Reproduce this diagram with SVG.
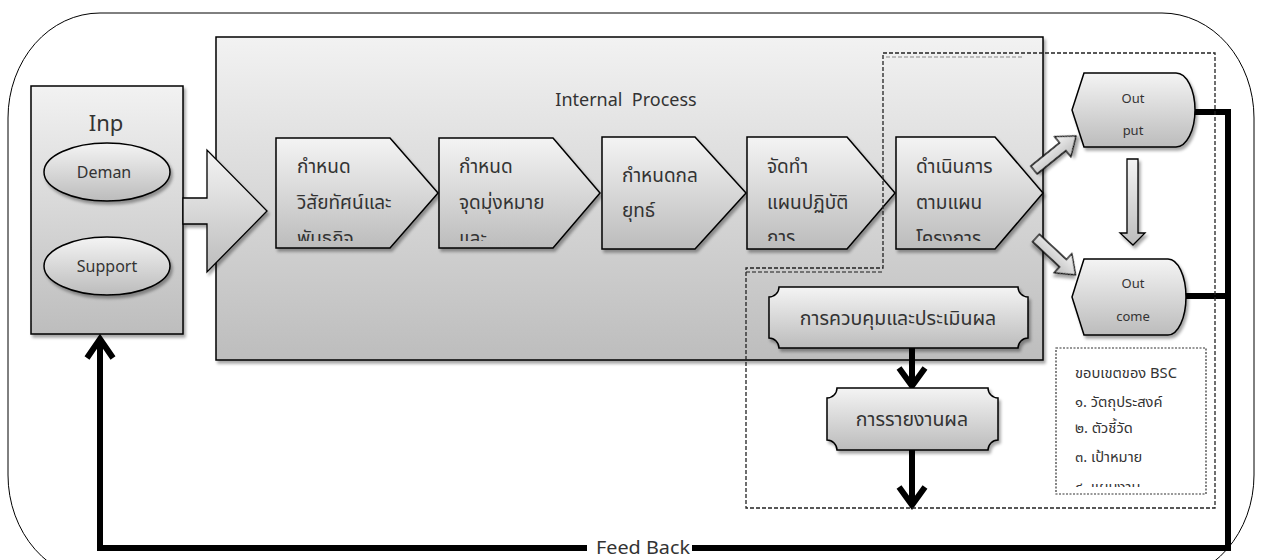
<svg xmlns="http://www.w3.org/2000/svg" width="1263" height="560" viewBox="0 0 1263 560">
<defs>
<linearGradient id="g" x1="0" y1="0" x2="0" y2="1"><stop offset="0" stop-color="#f4f4f4"/><stop offset="1" stop-color="#bcbcbc"/></linearGradient>
<linearGradient id="gb" x1="0" y1="0" x2="0" y2="1"><stop offset="0" stop-color="#f2f2f2"/><stop offset="1" stop-color="#bdbdbd"/></linearGradient>
<filter id="sh" x="-10%" y="-10%" width="130%" height="130%"><feDropShadow dx="2" dy="3" stdDeviation="1.5" flood-color="#000" flood-opacity="0.35"/></filter>
<clipPath id="stepclip"><rect x="270" y="130" width="780" height="111"/></clipPath>
<clipPath id="bscclip"><rect x="1056" y="348" width="150" height="139"/></clipPath>
</defs>
<style>
.shape{fill:url(#g);stroke:#000;stroke-width:1.5;filter:url(#sh)}
.big{fill:url(#gb);stroke:#000;stroke-width:1.5;filter:url(#sh)}
.t{font-family:"Noto Sans Thai","Noto Sans","DejaVu Sans",sans-serif;fill:#333}
.s19{font-size:19px}
.s13{font-size:13px}
.s15{font-size:14.7px}
.dash{fill:none;stroke:#222;stroke-width:1.3;stroke-dasharray:4 2}
.dot{fill:none;stroke:#333;stroke-width:1.2;stroke-dasharray:2 1.5}
.thick{fill:none;stroke:#000;stroke-width:6}
.barrow{fill:url(#g);stroke:#000;stroke-width:1.3;filter:url(#sh)}
</style>
<rect x="8" y="13" width="1246" height="567" rx="92" ry="105" fill="none" stroke="#000" stroke-width="1"/>

<g id="internal-process">
<rect class="big" x="216" y="37" width="827" height="323"/>
<text class="t" x="626" y="106" font-size="18" text-anchor="middle" xml:space="preserve">Internal  Process</text>
</g>

<g id="input">
<rect class="big" x="31" y="86" width="152" height="248"/>
<text class="t" x="106" y="131" font-size="22" text-anchor="middle">Inp</text>
</g>
<g id="deman">
<ellipse class="shape" cx="107" cy="172" rx="63" ry="29"/>
<text class="t" x="104" y="178" font-size="16" text-anchor="middle">Deman</text>
</g>
<g id="support">
<ellipse class="shape" cx="107" cy="266" rx="63" ry="29"/>
<text class="t" x="107" y="272" font-size="16" text-anchor="middle">Support</text>
</g>

<g id="connectors">
<polygon class="barrow" points="183,198 207,198 207,150 267,211 207,272 207,224 183,224"/>
<path class="barrow" transform="translate(1034,170) rotate(-39)" d="M0,-5 L37,-5 L37,-13 L54,0 L37,13 L37,5 L0,5 Z"/>
<path class="barrow" transform="translate(1036,238) rotate(43)" d="M0,-5 L37,-5 L37,-13 L54,0 L37,13 L37,5 L0,5 Z"/>
<polygon class="barrow" points="1127,159 1138,159 1138,233 1145,233 1133,245 1120,233 1127,233"/>
<polyline class="thick" points="1194,112 1228,112 1228,548 692,548"/>
<line class="thick" x1="1185" y1="296" x2="1228" y2="296"/>
<polyline class="thick" points="587,548 100,548 100,340"/>
<polyline class="thick" points="87,358 100,339 113,358"/>
<line class="thick" x1="912" y1="348" x2="912" y2="384"/>
<polyline class="thick" points="899,368 912,386 925,368"/>
<line class="thick" x1="912" y1="450" x2="912" y2="503"/>
<polyline class="thick" points="899,487 912,505 925,487"/>
<text class="t" x="596" y="554" font-size="18" textLength="94" lengthAdjust="spacingAndGlyphs">Feed Back</text>
</g>

<g id="step1">
<polygon class="shape" points="276,138 390,138 438,193 390,248 276,248"/>
<g clip-path="url(#stepclip)" class="t s19"><text x="297" y="173">กำหนด</text><text x="297" y="209">วิสัยทัศน์และ</text><text x="297" y="245">พันธกิจ</text></g>
</g>
<g id="step2">
<polygon class="shape" points="439,138 553,138 600,193 553,248 439,248"/>
<g clip-path="url(#stepclip)" class="t s19"><text x="459" y="173">กำหนด</text><text x="459" y="209">จุดมุ่งหมาย</text><text x="459" y="245">และ</text></g>
</g>
<g id="step3">
<polygon class="shape" points="602,137 695,137 746,193 695,249 602,249"/>
<g class="t s19"><text x="622" y="182">กำหนดกล</text><text x="622" y="217">ยุทธ์</text></g>
</g>
<g id="step4">
<polygon class="shape" points="747,137 847,137 895,193 847,249 747,249"/>
<g clip-path="url(#stepclip)" class="t s19"><text x="767" y="173">จัดทำ</text><text x="767" y="209">แผนปฏิบัติ</text><text x="767" y="244">การ</text></g>
</g>
<g id="step5">
<polygon class="shape" points="896,137 995,137 1043,193 995,249 896,249"/>
<g clip-path="url(#stepclip)" class="t s19"><text x="916" y="173">ดำเนินการ</text><text x="916" y="209">ตามแผน</text><text x="916" y="245">โครงการ</text></g>
</g>

<g id="control">
<path class="shape" d="M779,287 H1018 A10,10 0 0 0 1028,297 V338 A10,10 0 0 0 1018,348 H779 A10,10 0 0 0 769,338 V297 A10,10 0 0 0 779,287 Z"/>
<text class="t" font-size="19.5" x="898" y="325" text-anchor="middle">การควบคุมและประเมินผล</text>
</g>
<g id="report">
<path class="shape" d="M837,388 H988 A10,10 0 0 0 998,398 V440 A10,10 0 0 0 988,450 H837 A10,10 0 0 0 827,440 V398 A10,10 0 0 0 837,388 Z"/>
<text class="t" font-size="19.5" x="912" y="426" text-anchor="middle">การรายงานผล</text>
</g>

<g id="output">
<path class="shape" d="M1084,73 H1176 A19,37 0 0 1 1176,147 H1084 L1072,110 Z"/>
<text class="t s13" x="1133" y="103" text-anchor="middle">Out</text>
<text class="t s13" x="1133" y="135" text-anchor="middle">put</text>
</g>
<g id="outcome">
<path class="shape" d="M1084,259 H1168 A18,38 0 0 1 1168,335 H1084 L1072,297 Z"/>
<text class="t s13" x="1133" y="288" text-anchor="middle">Out</text>
<text class="t s13" x="1133" y="321" text-anchor="middle">come</text>
</g>

<g id="bsc-scope">
<polyline fill="none" stroke="#aaa" stroke-width="1.3" stroke-dasharray="4 2" points="886,57 1022,57"/>
<polyline fill="none" stroke="#555" stroke-width="1.3" stroke-dasharray="4 2" points="746,272 883,272"/>
<polygon class="dash" points="883,53 1215,53 1215,508 746,508 746,268 883,268"/>
</g>
<g id="bsc-list">
<rect class="dot" x="1056" y="348" width="150" height="146"/>
<g clip-path="url(#bscclip)" class="t s15">
<text x="1075" y="378">ขอบเขตของ BSC</text>
<text x="1075" y="407">๑. วัตถุประสงค์</text>
<text x="1075" y="433">๒. ตัวชี้วัด</text>
<text x="1075" y="462">๓. เป้าหมาย</text>
<text x="1075" y="492">๔. แผนงาน</text>
</g>
</g>
</svg>
